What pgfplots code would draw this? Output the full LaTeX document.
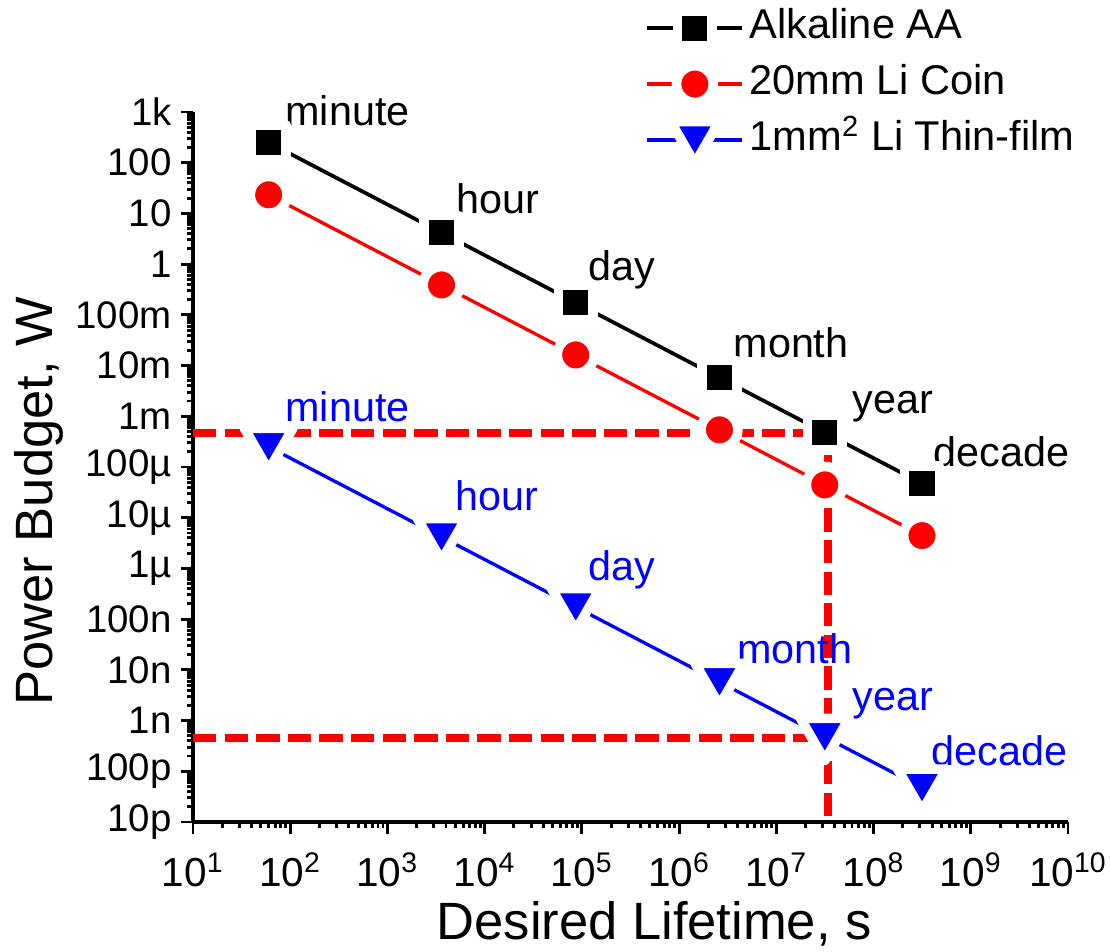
\documentclass[border=0pt]{standalone}
\usepackage{fontspec}
\setmainfont{Liberation Sans}
\usepackage{pgfplots}
\pgfplotsset{compat=1.18}
\definecolor{pblue}{RGB}{0,0,255}
\definecolor{pred}{RGB}{255,0,0}
\newcommand{\annfont}{\fontsize{15.5}{18}\selectfont}
\begin{document}
\begin{tikzpicture}
\begin{axis}[
  scale only axis, width=328.125pt, height=266.25pt,
  xmode=log, ymode=log,
  xmin=1e1, xmax=1e10, ymin=1e-11, ymax=1e3,
  axis x line*=bottom, axis y line*=left,
  axis line style={-, line width=1.2pt},
  tick align=outside,
  major tick length=4.5pt, minor tick length=2.4pt,
  tick style={black, line width=1.1pt},
  clip=false,
  xtick={1e1,1e2,1e3,1e4,1e5,1e6,1e7,1e8,1e9,1e10},
  xticklabels={10\textsuperscript{1},10\textsuperscript{2},10\textsuperscript{3},10\textsuperscript{4},10\textsuperscript{5},10\textsuperscript{6},10\textsuperscript{7},10\textsuperscript{8},10\textsuperscript{9},10\textsuperscript{10}},
  ytick={1e-11,1e-10,1e-9,1e-8,1e-7,1e-6,1e-5,1e-4,1e-3,1e-2,1e-1,1,1e1,1e2,1e3},
  yticklabels={10p,100p,1n,10n,100n,1µ,10µ,100µ,1m,10m,100m,1,10,100,1k},
  /pgf/number format/assume math mode=true,
  xticklabel style={font=\fontsize{15.2}{18}\selectfont, yshift=-3.5pt},
  yticklabel style={font=\fontsize{14.4}{17}\selectfont},
  xlabel={Desired Lifetime, s}, ylabel={Power Budget, W},
  label style={font=\fontsize{19.7}{23}\selectfont},
  xlabel style={at={(axis description cs:0.527,-0.166)}, anchor=base},
  ylabel style={at={(axis description cs:-0.16,0.452)}, anchor=base},
  legend style={at={(axis description cs:0.5166,1.149)}, anchor=north west,
    draw=none, fill=none, inner sep=0pt, row sep=5pt,
    font=\fontsize{15.6}{18}\selectfont,
    nodes={inner ysep=0pt, text height=12pt, text depth=4pt}},
  legend cell align=left,
  legend image code/.code={\draw[mark repeat=2,mark phase=2] plot coordinates {(0pt,0pt) (17.8pt,0pt) (35.6pt,0pt)};},
]
% dashed horizontal guide lines
\addplot[pred, line width=3pt, dash pattern=on 8.75pt off 3.1pt, forget plot]
  coordinates {(10,4.6e-4) (3.4e7,4.6e-4)};
\addplot[pred, line width=3pt, dash pattern=on 8.75pt off 3.1pt, forget plot]
  coordinates {(10,4.6e-10) (3.4e7,4.6e-10)};
% series
\addplot[black, line width=1.4pt, mark=square*, mark size=6.5pt,
  mark options={solid, draw=white, fill=black, line width=3.6pt, line join=round}]
  coordinates {(60,250) (3600,4.17) (86400,0.1736) (2.6e6,5.77e-3) (3.15e7,4.75e-4) (3.15e8,4.75e-5)};
\addlegendentry{Alkaline AA}
\addplot[pred, line width=1.25pt, mark=*, mark size=6.9pt,
  mark options={solid, draw=white, fill=pred, line width=3.6pt}]
  coordinates {(60,23.3) (3600,0.389) (86400,0.0162) (2.6e6,5.4e-4) (3.15e7,4.44e-5) (3.15e8,4.44e-6)};
\addlegendentry{20mm Li Coin}
\addplot[pblue, line width=1.25pt, mark=triangle*, mark size=10.5pt,
  mark options={solid, yshift=1.7pt, rotate=180, draw=white, fill=pblue, line width=3.6pt, line join=round}]
  coordinates {(60,2.5e-4) (3600,4.17e-6) (86400,1.736e-7) (2.6e6,5.77e-9) (3.15e7,4.75e-10) (3.15e8,4.75e-11)};
\addlegendentry{1mm\textsuperscript{2} Li Thin-film}
% dashed vertical guide line (on top)
\addplot[pred, line width=3pt, dash pattern=on 8.75pt off 3.1pt, forget plot]
  coordinates {(3.4e7,2.7e-4) (3.4e7,1e-11)};
% annotations black
\begin{scope}[every node/.style={anchor=base west, inner sep=0pt, font=\annfont}]
\node[xshift=6.1pt, yshift=6.5pt] at (axis cs:60,250) {minute};
\node[xshift=5.4pt, yshift=7.35pt] at (axis cs:3600,4.17) {hour};
\node[xshift=4.65pt, yshift=8.4pt] at (axis cs:86400,0.1736) {day};
\node[xshift=5.1pt, yshift=7.7pt] at (axis cs:2.6e6,5.77e-3) {month};
\node[xshift=10.3pt, yshift=7.3pt] at (axis cs:3.15e7,4.75e-4) {year};
\node[xshift=4.2pt, yshift=6.2pt] at (axis cs:3.15e8,4.75e-5) {decade};
% blue
\node[pblue, xshift=6.1pt, yshift=9.6pt] at (axis cs:60,2.5e-4) {minute};
\node[pblue, xshift=5.1pt, yshift=10.05pt] at (axis cs:3600,4.17e-6) {hour};
\node[pblue, xshift=4.65pt, yshift=10.05pt] at (axis cs:86400,1.736e-7) {day};
\node[pblue, xshift=6.5pt, yshift=6.9pt] at (axis cs:2.6e6,5.77e-9) {month};
\node[pblue, xshift=10.2pt, yshift=10.0pt] at (axis cs:3.15e7,4.75e-10) {year};
\node[pblue, xshift=3.45pt, yshift=8.4pt] at (axis cs:3.15e8,4.75e-11) {decade};
\end{scope}
\end{axis}
\pgfresetboundingbox
\path[use as bounding box] (-72.375pt,-48.375pt) rectangle (343.875pt,308.25pt);
\end{tikzpicture}
\end{document}
